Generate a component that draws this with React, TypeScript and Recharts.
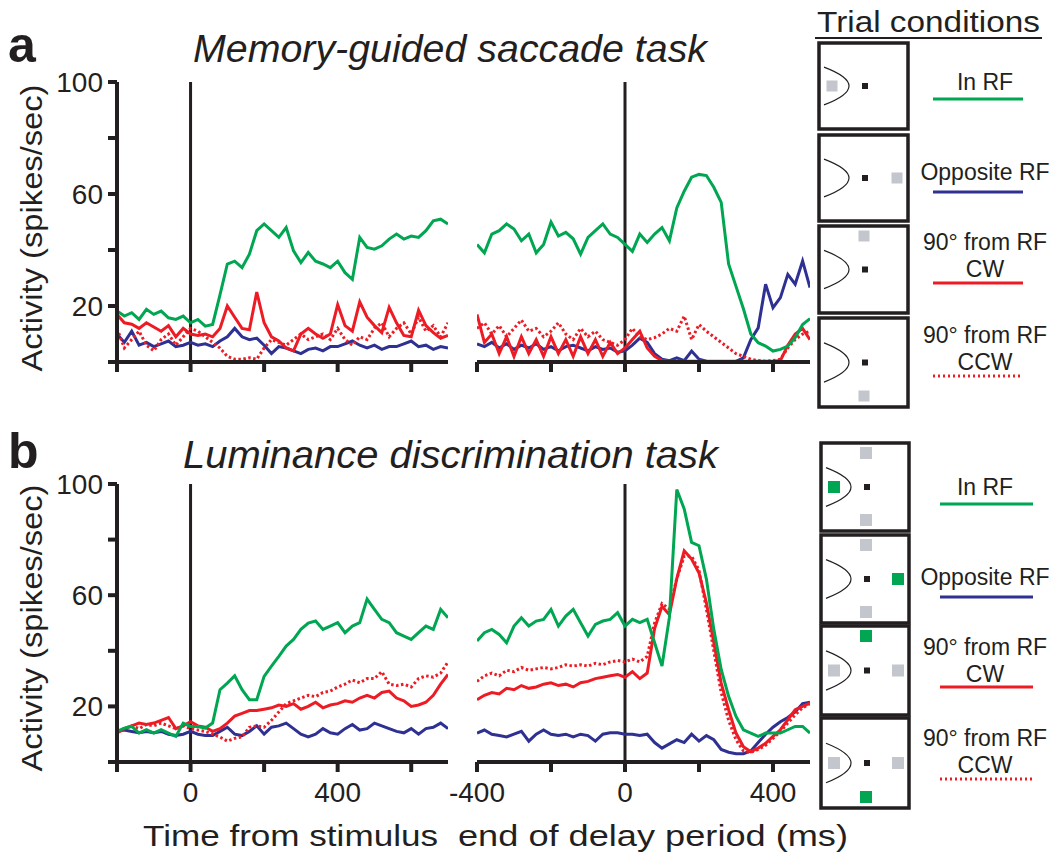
import { LineChart, Line, XAxis, YAxis, ReferenceLine } from 'recharts';

const GREEN = '#00a651';
const BLUE = '#2e3192';
const RED = '#ed1c24';
const INK = '#231f20';
const GRAY = '#c3c6cd';
const FONT = '"Liberation Sans", Arial, Helvetica, sans-serif';

// time axes (ms)
const TIME_STIM = [-200, -180, -160, -140, -120, -100, -80, -60, -40, -20, 0, 20, 40, 60, 80, 100, 120, 140, 160, 180, 200, 220, 240, 260, 280, 300, 320, 340, 360, 380, 400, 420, 440, 460, 480, 500, 520, 540, 560, 580, 600, 620, 640, 660, 680, 700];
const TIME_DELAY = [-400, -380, -360, -340, -320, -300, -280, -260, -240, -220, -200, -180, -160, -140, -120, -100, -80, -60, -40, -20, 0, 20, 40, 60, 80, 100, 120, 140, 160, 180, 200, 220, 240, 260, 280, 300, 320, 340, 360, 380, 400, 420, 440, 460, 480, 500];

const STIM_TICKS = [-200, 0, 200, 400, 600];
const DELAY_TICKS = [-400, -200, 0, 200, 400];
const STIM_TICK_LABELS = [0, 400];
const DELAY_TICK_LABELS = [-400, 0, 400];
const Y_TICKS = [0, 20, 40, 60, 80, 100];
const Y_TICK_LABELS = [20, 60, 100];

// a: memory-guided saccade task, aligned on stimulus
const A_STIM_IN_RF = [18.2, 16.4, 17.6, 15.2, 18.8, 17, 18.2, 15.8, 15.2, 16.4, 14, 15.2, 12.8, 13.4, 24, 35, 36, 33.7, 38.5, 46.9, 49.3, 46.9, 44.5, 48, 39.7, 35.5, 39.1, 36, 35, 33.7, 36, 31.9, 29.5, 44.5, 40.9, 40.3, 41.5, 43.9, 45.7, 43.9, 45, 44.5, 46.9, 50.4, 51, 49.3];
const A_STIM_OPP = [10, 7, 11, 6, 7, 5.5, 6.5, 7.5, 5.5, 6, 7, 6, 6.5, 5.5, 7.5, 9, 12, 9, 8, 8.5, 6, 3, 5.5, 5, 4, 3, 4.5, 5, 4, 5.5, 5.5, 6.5, 7.5, 6, 5, 6, 4.5, 5.5, 5.5, 6.5, 7.5, 5.5, 6, 4.5, 5.5, 5];
const A_STIM_CW = [17, 14, 13.5, 12, 14, 12.5, 11, 13, 9, 12, 10, 9.5, 10, 9, 12, 20, 16, 12, 11.5, 25, 14, 9, 7.5, 5, 4, 10, 12, 10, 8.5, 10, 20.5, 13, 11, 21.5, 16, 13, 10.5, 19.5, 14, 9.5, 9, 18.5, 13, 10.5, 8.5, 9.5];
const A_STIM_CCW = [12, 5, 8, 11, 6, 4, 8, 10, 6, 9, 12, 11, 9, 7, 5, 2, 1, 1, 1.5, 1, 5, 8, 7, 6, 8, 10, 8, 9, 10, 8, 12, 8, 6, 9, 8, 12, 14, 9, 12, 14, 10, 16, 11, 13, 9, 14];

// a: aligned on end of delay period
const A_DELAY_IN_RF = [42, 39, 45.7, 46.9, 49.3, 47.5, 43.3, 45.7, 39, 42, 50, 45, 46.3, 44, 38.5, 44.5, 46.9, 49.3, 45.7, 44.5, 42, 39.5, 45.7, 42.7, 45.7, 48, 43.3, 55, 61, 66, 67, 66.6, 62.4, 57, 35, 27, 19, 10, 6.9, 5.7, 3.9, 4.5, 5.7, 8.7, 13.4, 15.5];
const A_DELAY_OPP = [6.5, 5.5, 7, 5, 6.5, 4.5, 6, 5, 6.5, 4.5, 5.5, 4, 5.5, 6, 5, 4, 5.5, 4.5, 5, 3.5, 4, 6, 8.5, 7, 3, 1, 0.5, 1.5, 0.5, 3.9, 1, 0.3, 0.2, 0.2, 0.2, 0.2, 1.5, 8, 12.2, 27.8, 19.4, 23, 31.3, 27.8, 36.1, 26.6];
const A_DELAY_CW = [17, 7, 10, 3, 9, 2, 9, 3, 8, 2, 9, 3, 8, 2, 9, 3, 8, 2, 7, 3, 5, 8, 11, 5, 2, 0.5, 0.3, 0.3, 0.3, 0.3, 0.3, 0.3, 0.3, 0.3, 0.3, 0.3, 0.3, 0.3, 0.3, 0.3, 0.3, 0.5, 6, 10, 12, 8];
const A_DELAY_CCW = [12, 14, 10, 13, 9, 12, 15, 11, 12, 9, 11, 14, 10, 8, 12, 9, 11, 8, 7, 6, 8, 12, 9, 8, 8.7, 10, 12, 11, 16.4, 8, 13.4, 11, 9, 7, 5, 3, 2, 1, 0.5, 0.3, 0.5, 1, 5, 8, 10, 11];

// b: luminance discrimination task, aligned on stimulus
const B_STIM_IN_RF = [11, 12.2, 12.8, 10.4, 11.6, 10.4, 11.6, 10.4, 9.2, 14, 12.8, 12.8, 12.2, 14, 26, 28.4, 31, 26, 22.4, 22.4, 30.8, 34.5, 38, 41.7, 44.1, 47.7, 50, 50.7, 47.7, 48.9, 50.1, 46.5, 48.9, 50.1, 58.6, 54.9, 51.3, 50.1, 46.5, 45.3, 44.1, 46.5, 48.9, 47.7, 54.9, 51.9];
const B_STIM_OPP = [11, 11.5, 11, 10.5, 11, 10.5, 11, 10, 9.5, 10, 11, 10, 9.5, 9.5, 11, 12.5, 10, 9.5, 11, 13, 10, 12.5, 13, 14, 12, 10, 9, 10, 12, 10.5, 10, 12, 13.5, 11.5, 12, 14, 13, 12, 11, 10.5, 12, 10, 12, 12.5, 14, 12];
const B_STIM_CW = [10.4, 12, 13, 14, 13.5, 14, 15, 16, 12, 13, 14.5, 13, 12.5, 11, 12, 14, 16.5, 17.5, 18.5, 18.5, 19, 19.5, 20.5, 20, 21, 19, 20, 21.5, 19.5, 20.5, 21, 22, 21.5, 23, 24, 23, 25, 25.5, 23, 22, 20, 20.5, 21.5, 24, 28, 31.5];
const B_STIM_CCW = [11, 12, 13, 12, 13.5, 13, 14, 13, 12, 13, 12, 11.5, 11, 10, 9, 7.5, 8.5, 9, 12.5, 13, 12.5, 15, 18, 21, 22, 23, 24, 23.5, 25, 25.5, 27, 28, 29.5, 28.5, 30, 30, 32.5, 28, 27.5, 28, 27, 30, 31, 30.5, 32, 36];

// b: aligned on end of delay period
const B_DELAY_IN_RF = [43.5, 46.5, 47.7, 45.9, 42.9, 48.9, 51.9, 48.9, 50.7, 51.3, 54.9, 48.9, 52.5, 54.9, 50.1, 45.3, 49.5, 50.7, 51.3, 53.7, 48.9, 51.3, 50.1, 51.3, 42.9, 34.5, 52, 98, 91, 79, 77.8, 65.8, 47.7, 33.3, 23.6, 16.4, 11.6, 10.4, 9.2, 10.4, 10.4, 10.4, 11.6, 12.8, 12.8, 10.4];
const B_DELAY_OPP = [10.4, 11.5, 10, 9.5, 9, 10, 11, 7.5, 10, 11.5, 10, 9.5, 10, 9, 10, 9.5, 7.5, 10, 10.5, 10.5, 10, 10, 9.5, 10, 7, 5, 6.5, 8, 7, 10, 7.5, 9.5, 8, 4.5, 3.5, 3, 3, 4, 7, 10, 12.5, 14.5, 16, 18, 21, 21.5];
const B_DELAY_CW = [22.4, 24, 25, 24.5, 26.5, 26, 27.5, 26.5, 27, 28, 28.5, 27.5, 28, 27, 28.5, 29, 30, 30.5, 31, 31.5, 30.5, 32.5, 30, 32, 48, 56, 53, 66, 76, 73, 68, 57.3, 43, 28.4, 18.8, 10.4, 5.5, 3.7, 5, 6.7, 9.2, 11.6, 15.2, 18.8, 20, 21.2];
const B_DELAY_CCW = [29, 31, 32, 31, 33, 32.5, 34, 33, 33.5, 34, 33.5, 34, 35, 34.5, 35, 34.5, 35.5, 35, 36, 36.5, 36, 37, 36, 38, 50, 57, 55, 66, 74, 74, 69, 55, 40, 25, 15, 8, 4, 3.5, 4.5, 6, 8.5, 11, 14, 17, 19.5, 21];

function buildRows(time: number[], inRf: number[], opp: number[], cw: number[], ccw: number[]) {
  return time.map((t, i) => ({ t, inRf: inRf[i], opp: opp[i], cw: cw[i], ccw: ccw[i] }));
}

const A_STIM = buildRows(TIME_STIM, A_STIM_IN_RF, A_STIM_OPP, A_STIM_CW, A_STIM_CCW);
const A_DELAY = buildRows(TIME_DELAY, A_DELAY_IN_RF, A_DELAY_OPP, A_DELAY_CW, A_DELAY_CCW);
const B_STIM = buildRows(TIME_STIM, B_STIM_IN_RF, B_STIM_OPP, B_STIM_CW, B_STIM_CCW);
const B_DELAY = buildRows(TIME_DELAY, B_DELAY_IN_RF, B_DELAY_OPP, B_DELAY_CW, B_DELAY_CCW);

interface PanelProps {
  rows: any[];
  plotLeft: number;
  plotTop: number;
  plotWidth: number;
  plotHeight: number;
  domain: [number, number];
  ticks: number[];
  tickLabels: number[];
  showY: boolean;
}

function Panel({ rows, plotLeft, plotTop, plotWidth, plotHeight, domain, ticks, tickLabels, showY }: PanelProps) {
  const yW = showY ? 90 : 0;
  const ml = showY ? 0 : 40;
  const mt = 20;
  const mr = 10;
  const xh = 60;
  const width = plotWidth + yW + ml + mr;
  const height = plotHeight + mt + xh;
  const axisStroke = { stroke: INK, strokeWidth: 4 };
  return (
    <div style={{ position: 'absolute', left: plotLeft - yW - ml, top: plotTop - mt }}>
      <LineChart width={width} height={height} data={rows} margin={{ top: mt, right: mr, bottom: 0, left: ml }}>
        <XAxis
          type="number"
          dataKey="t"
          domain={domain}
          ticks={ticks}
          interval={0}
          allowDataOverflow
          height={xh}
          tickFormatter={(v: number) => (tickLabels.includes(v) ? String(v) : '')}
          axisLine={axisStroke}
          tickLine={axisStroke}
          tickSize={10}
          tickMargin={10}
          tick={{ fill: INK, fontSize: 28, fontFamily: FONT }}
        />
        <YAxis
          type="number"
          domain={[0, 100]}
          ticks={Y_TICKS}
          interval={0}
          hide={!showY}
          width={yW}
          tickFormatter={(v: number) => (Y_TICK_LABELS.includes(v) ? String(v) : '')}
          axisLine={axisStroke}
          tickLine={axisStroke}
          tickSize={9}
          tickMargin={5}
          tick={{ fill: INK, fontSize: 28, fontFamily: FONT }}
        />
        <ReferenceLine x={0} stroke={INK} strokeWidth={3} />
        <Line type="linear" dataKey="opp" stroke={BLUE} strokeWidth={3} dot={false} isAnimationActive={false} />
        <Line type="linear" dataKey="ccw" stroke={RED} strokeWidth={3} strokeDasharray="2.5 2.5" dot={false} isAnimationActive={false} />
        <Line type="linear" dataKey="cw" stroke={RED} strokeWidth={3} dot={false} isAnimationActive={false} />
        <Line type="linear" dataKey="inRf" stroke={GREEN} strokeWidth={3} dot={false} isAnimationActive={false} />
      </LineChart>
    </div>
  );
}

type Spot = { pos: 'left' | 'right' | 'top' | 'bottom'; color: string };

function CondBox({ x, y, w, h, spots, size }: { x: number; y: number; w: number; h: number; spots: Spot[]; size: number }) {
  const cx = x + 46;
  const cy = y + h / 2;
  const place = (pos: Spot['pos']) => {
    if (pos === 'left') return [x + 13, cy];
    if (pos === 'right') return [x + w - 11, cy];
    if (pos === 'top') return [cx - 1, y + 10];
    return [cx - 1, y + h - 11];
  };
  return (
    <g>
      <rect x={x} y={y} width={w} height={h} fill="#fff" stroke={INK} strokeWidth={3.5} />
      <path d={`M ${x + 5} ${y + h * 0.28} Q ${x + 55} ${cy} ${x + 5} ${y + h * 0.72}`} fill="none" stroke={INK} strokeWidth={1.2} />
      {spots.map((s, i) => {
        const [sx, sy] = place(s.pos);
        return <rect key={i} x={sx - size / 2} y={sy - size / 2} width={size} height={size} fill={s.color} />;
      })}
      <rect x={cx - 3} y={cy - 3} width={6} height={6} fill={INK} />
    </g>
  );
}

function LegendEntry({ lines, lineY, x1, x2, color, dotted, firstBaseline }: { lines: string[]; lineY: number; x1: number; x2: number; color: string; dotted?: boolean; firstBaseline: number }) {
  return (
    <g>
      {lines.map((t, i) => (
        <text key={i} x={985} y={firstBaseline + i * 27} textAnchor="middle" fontSize={23} fontFamily={FONT} fill={INK}>
          {t}
        </text>
      ))}
      <line x1={x1} x2={x2} y1={lineY} y2={lineY} stroke={color} strokeWidth={3} strokeDasharray={dotted ? '2 3' : undefined} />
    </g>
  );
}

function Overlay() {
  return (
    <svg width={1050} height={855} style={{ position: 'absolute', left: 0, top: 0, pointerEvents: 'none' }}>
      <text x={8} y={62} fontSize={50} fontWeight="bold" fontFamily={FONT} fill={INK}>a</text>
      <text x={8} y={468} fontSize={50} fontWeight="bold" fontFamily={FONT} fill={INK}>b</text>
      <text x={193} y={62} fontSize={39} fontStyle="italic" fontFamily={FONT} fill={INK} textLength={514} lengthAdjust="spacingAndGlyphs">Memory-guided saccade task</text>
      <text x={183} y={468} fontSize={39} fontStyle="italic" fontFamily={FONT} fill={INK} textLength={535} lengthAdjust="spacingAndGlyphs">Luminance discrimination task</text>
      <text transform="translate(42 228) rotate(-90)" textAnchor="middle" fontSize={30} fontFamily={FONT} fill={INK} textLength={287} lengthAdjust="spacingAndGlyphs">Activity (spikes/sec)</text>
      <text transform="translate(42 628) rotate(-90)" textAnchor="middle" fontSize={30} fontFamily={FONT} fill={INK} textLength={287} lengthAdjust="spacingAndGlyphs">Activity (spikes/sec)</text>
      <text x={143} y={846} fontSize={30} fontFamily={FONT} fill={INK} textLength={295} lengthAdjust="spacingAndGlyphs">Time from stimulus</text>
      <text x={458} y={846} fontSize={30} fontFamily={FONT} fill={INK} textLength={390} lengthAdjust="spacingAndGlyphs">end of delay period (ms)</text>

      <text x={817} y={32} fontSize={30} fontFamily={FONT} fill={INK} textLength={223} lengthAdjust="spacingAndGlyphs">Trial conditions</text>
      <line x1={815} x2={1042} y1={38} y2={38} stroke={INK} strokeWidth={2} />

      <CondBox x={819} y={43} w={89} h={86} size={11} spots={[{ pos: 'left', color: GRAY }]} />
      <CondBox x={819} y={135} w={89} h={86} size={11} spots={[{ pos: 'right', color: GRAY }]} />
      <CondBox x={819} y={226} w={89} h={87} size={11} spots={[{ pos: 'top', color: GRAY }]} />
      <CondBox x={819} y={318} w={89} h={89} size={11} spots={[{ pos: 'bottom', color: GRAY }]} />

      <LegendEntry lines={['In RF']} firstBaseline={90} lineY={99} x1={933} x2={1023} color={GREEN} />
      <LegendEntry lines={['Opposite RF']} firstBaseline={180} lineY={192} x1={933} x2={1023} color={BLUE} />
      <LegendEntry lines={['90° from RF', 'CW']} firstBaseline={250} lineY={283} x1={933} x2={1023} color={RED} />
      <LegendEntry lines={['90° from RF', 'CCW']} firstBaseline={343} lineY={376} x1={933} x2={1023} color={RED} dotted />

      <CondBox x={821} y={443} w={88} h={88} size={12} spots={[{ pos: 'top', color: GRAY }, { pos: 'bottom', color: GRAY }, { pos: 'left', color: GREEN }]} />
      <CondBox x={821} y={535} w={88} h={88} size={12} spots={[{ pos: 'top', color: GRAY }, { pos: 'bottom', color: GRAY }, { pos: 'right', color: GREEN }]} />
      <CondBox x={821} y={626} w={88} h={89} size={12} spots={[{ pos: 'top', color: GREEN }, { pos: 'left', color: GRAY }, { pos: 'right', color: GRAY }]} />
      <CondBox x={821} y={718} w={88} h={90} size={12} spots={[{ pos: 'bottom', color: GREEN }, { pos: 'left', color: GRAY }, { pos: 'right', color: GRAY }]} />

      <LegendEntry lines={['In RF']} firstBaseline={495} lineY={504} x1={940} x2={1033} color={GREEN} />
      <LegendEntry lines={['Opposite RF']} firstBaseline={585} lineY={597} x1={940} x2={1033} color={BLUE} />
      <LegendEntry lines={['90° from RF', 'CW']} firstBaseline={655} lineY={687} x1={940} x2={1033} color={RED} />
      <LegendEntry lines={['90° from RF', 'CCW']} firstBaseline={746} lineY={779} x1={940} x2={1033} color={RED} dotted />
    </svg>
  );
}

export default function App() {
  return (
    <div style={{ position: 'absolute', left: 0, top: 0, width: 1050, height: 855, background: '#fff', overflow: 'hidden' }}>
      <Panel rows={A_STIM} plotLeft={117} plotTop={82} plotWidth={331} plotHeight={280} domain={[-200, 700]} ticks={STIM_TICKS} tickLabels={[]} showY />
      <Panel rows={A_DELAY} plotLeft={477} plotTop={82} plotWidth={333} plotHeight={280} domain={[-400, 500]} ticks={DELAY_TICKS} tickLabels={[]} showY={false} />
      <Panel rows={B_STIM} plotLeft={117} plotTop={484} plotWidth={331} plotHeight={278} domain={[-200, 700]} ticks={STIM_TICKS} tickLabels={STIM_TICK_LABELS} showY />
      <Panel rows={B_DELAY} plotLeft={477} plotTop={484} plotWidth={333} plotHeight={278} domain={[-400, 500]} ticks={DELAY_TICKS} tickLabels={DELAY_TICK_LABELS} showY={false} />
      <Overlay />
    </div>
  );
}
